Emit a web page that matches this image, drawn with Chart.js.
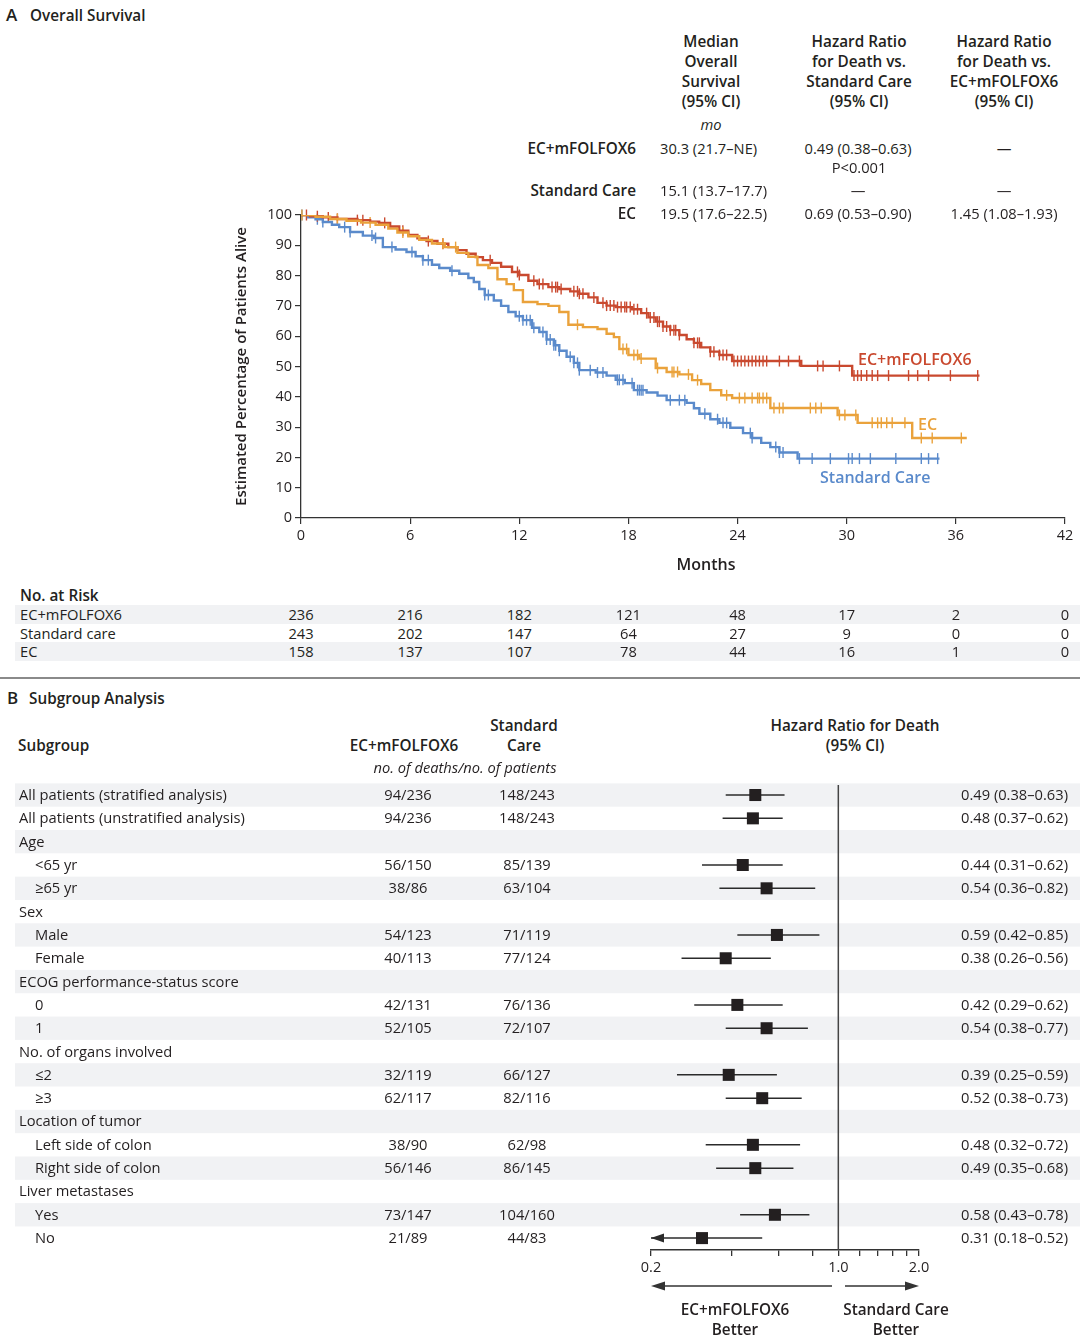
<!DOCTYPE html>
<html>
<head>
<meta charset="utf-8">
<script src="https://cdn.jsdelivr.net/npm/chart.js@4.4.1/dist/chart.umd.min.js"></script>
<style>
  body { margin: 0; background: #fff; }
  #page { position: relative; width: 1080px; height: 1342px; overflow: hidden; background: #fff;
          font-family: 'Open Sans', sans-serif; color: #231f20; }
  .t { position: absolute; white-space: nowrap; line-height: 1.2; font-size: 14.7px; }
  .b { font-weight: 600; font-size: 15.3px; }
  .i { font-style: italic; }
  .band { position: absolute; background: #f1f2f4; }
  canvas { position: absolute; }
</style>
</head>
<body>
<div id="page">
  <div class="band" style="left:15px;top:605px;width:1065px;height:19px"></div>
  <div class="band" style="left:15px;top:642px;width:1065px;height:19px"></div>
  <div style="position:absolute;left:0;top:677px;width:1080px;height:2px;background:#8a8a8a"></div>
  <canvas id="km" width="850" height="378" style="left:230px;top:200px"></canvas>
  <canvas id="forest" width="1080" height="572" style="left:0;top:770px"></canvas>
  <svg style="position:absolute;left:0;top:1270px" width="1080" height="30">
    <line x1="660" y1="16" x2="832" y2="16" stroke="#333" stroke-width="1.5"/>
    <polygon points="651,16 665,11.5 665,20.5" fill="#333"/>
    <line x1="845" y1="16" x2="910" y2="16" stroke="#333" stroke-width="1.5"/>
    <polygon points="919,16 905,11.5 905,20.5" fill="#333"/>
  </svg>
</div>
<script>
// ---- Panel A: Kaplan-Meier data (months, % alive) ----
const comboTimes = [0,0.5,1.2,2.0,3.1,3.8,4.3,4.9,5.4,5.9,6.4,6.9,7.5,8.1,8.6,9.1,9.6,10.0,10.5,11.0,11.6,12.0,12.5,13.0,13.6,14.2,14.8,15.3,15.8,16.3,16.8,17.3,18.2,18.7,19.1,19.5,19.9,20.3,20.8,21.2,21.6,22.0,22.5,23.0,23.7,27.5,30.3,37.3];
const comboSurv  = [100,99.6,99.2,98.7,98.3,97.8,97.4,96.2,94.8,93.4,92.3,91.4,90.5,89.4,88.4,87.2,86.1,85.1,84.2,82.9,81.2,80.2,78.3,77.2,76.2,75.6,74.8,74.0,72.8,71.0,70.1,69.6,68.9,67.6,66.2,64.8,63.2,62.0,60.4,59.0,57.8,56.3,54.9,53.8,51.8,50.2,47.0,47.0];
const comboCensor = [0.3,0.9,1.5,2.0,3.1,3.4,4.6,5.6,7.0,7.8,10.4,11.9,12.0,12.8,13.1,13.3,13.8,14.0,14.1,14.3,15.0,15.2,15.3,15.5,16.1,16.6,16.8,17.0,17.2,17.4,17.6,17.8,17.9,18.1,18.3,18.5,19.0,19.2,19.4,19.6,19.7,19.9,20.1,20.3,20.5,20.6,20.8,21.6,21.8,21.9,22.5,22.7,23.0,23.2,23.4,23.8,24.0,24.2,24.4,24.6,24.8,25.0,25.2,25.4,25.6,26.3,26.8,27.4,28.4,28.7,29.6,30.4,30.6,30.8,31.1,31.4,31.7,32.3,33.4,33.9,34.5,35.7,37.2];

const ecTimes = [0,0.8,1.6,2.5,3.3,4.1,4.8,5.3,5.9,6.5,7.2,7.9,8.6,9.2,9.7,10.3,10.8,11.3,11.7,12.2,13.0,13.6,14.2,14.7,15.5,16.3,16.8,17.2,17.5,18.0,18.6,19.5,20.1,20.8,21.5,22.0,22.5,23.1,23.7,25.8,29.5,30.6,33.6,36.6];
const ecSurv  = [100,99.4,98.7,98.1,97.5,96.8,95.5,94.2,93.0,91.8,90.6,89.4,87.5,86.2,83.5,82.5,78.8,77.2,75.2,71.3,70.6,70.0,68.0,63.8,63.0,62.4,60.8,59.7,55.8,53.8,52.6,49.5,48.2,47.4,45.5,44.2,42.2,40.5,39.6,36.3,34.0,31.4,26.4,26.4];
const ecCensor = [0.05,2.0,3.8,5.6,7.8,8.5,15.2,17.7,17.9,18.3,18.5,18.7,19.6,20.4,20.5,20.7,21.3,21.8,23.4,24.1,24.4,24.8,25.1,25.2,25.4,25.6,26.0,26.3,26.5,28.0,28.3,28.6,29.6,29.9,30.5,31.4,31.7,31.9,32.2,32.5,33.2,34.1,34.7,36.3];

const stdTimes = [0,0.4,0.8,1.2,1.7,2.1,2.7,3.4,4.0,4.5,5.2,5.8,6.3,6.7,7.2,7.6,8.2,8.7,9.2,9.5,9.8,10.1,10.6,11.0,11.4,11.8,12.2,12.7,13.1,13.5,13.9,14.2,14.6,15.0,15.3,16.2,16.8,17.3,17.8,18.3,19.0,19.6,20.1,21.2,21.6,21.9,22.5,23.0,23.6,24.3,24.8,25.3,25.8,26.3,27.3,35.1];
const stdSurv  = [100,99.2,98.6,97.7,96.8,96.0,94.4,93.2,92.4,89.4,88.6,87.8,86.4,85.1,83.6,82.5,81.6,80.6,79.2,77.9,75.6,73.6,71.8,70.0,68.0,66.6,65.3,62.8,61.4,58.9,57.0,55.2,53.2,51.2,48.8,48.0,47.0,45.6,44.5,42.2,41.4,40.4,38.9,38.0,36.2,34.4,32.6,31.4,29.8,28.0,26.4,24.8,23.4,21.6,19.6,19.6];
const stdCensor = [0.05,0.9,1.2,2.4,2.7,3.9,4.1,5.0,6.1,6.7,7.0,8.3,10.1,10.3,12.0,12.2,12.4,12.6,12.8,13.3,13.5,13.7,13.9,14.0,14.2,14.8,15.0,15.2,15.3,15.9,16.3,16.6,17.4,17.5,17.7,18.2,18.5,18.6,18.7,18.8,20.3,20.8,21.1,22.2,22.9,23.2,23.4,24.7,24.8,26.1,26.3,26.5,27.4,28.1,29.1,30.1,30.3,30.7,31.3,32.7,34.1,34.5,35.0];

const months = [0,6,12,18,24,30,36,42];
const riskArms = ['EC+mFOLFOX6','Standard care','EC'];
const riskCombo = [236,216,182,121,48,17,2,0];
const riskStd   = [243,202,147,64,27,9,0,0];
const riskEC    = [158,137,107,78,44,16,1,0];

// ---- Panel A: summary table ----
const summaryRows = ['EC+mFOLFOX6','Standard Care','EC'];
const medianOS = ['30.3 (21.7–NE)','15.1 (13.7–17.7)','19.5 (17.6–22.5)'];
const hrVsStd  = ['0.49 (0.38–0.63)','—','0.69 (0.53–0.90)'];
const hrVsCombo = ['—','—','1.45 (1.08–1.93)'];

// ---- Panel B: subgroup data ----
const subgroupLabels = ['All patients (stratified analysis)','All patients (unstratified analysis)','Age','<65 yr','≥65 yr','Sex','Male','Female','ECOG performance-status score','0','1','No. of organs involved','≤2','≥3','Location of tumor','Left side of colon','Right side of colon','Liver metastases','Yes','No'];
const subgroupIndent = [0,0,0,1,1,0,1,1,0,1,1,0,1,1,0,1,1,0,1,1];
const deathsCombo = ['94/236','94/236','','56/150','38/86','','54/123','40/113','','42/131','52/105','','32/119','62/117','','38/90','56/146','','73/147','21/89'];
const deathsStd   = ['148/243','148/243','','85/139','63/104','','71/119','77/124','','76/136','72/107','','66/127','82/116','','62/98','86/145','','104/160','44/83'];
const hrPoint = [0.49,0.48,null,0.44,0.54,null,0.59,0.38,null,0.42,0.54,null,0.39,0.52,null,0.48,0.49,null,0.58,0.31];
const hrLow   = [0.38,0.37,null,0.31,0.36,null,0.42,0.26,null,0.29,0.38,null,0.25,0.38,null,0.32,0.35,null,0.43,0.18];
const hrHigh  = [0.63,0.62,null,0.62,0.82,null,0.85,0.56,null,0.62,0.77,null,0.59,0.73,null,0.72,0.68,null,0.78,0.52];
const forestTicks  = [0.2,0.4,0.6,0.8,1.0,1.2,1.4,1.6,1.8,2.0];
const forestLabels = [0.2,1.0,2.0];

const RED = '#c9492f', ORANGE = '#eaa23b', BLUE = '#5a8acb', INK = '#231f20';

Chart.defaults.font.family = "'Open Sans', sans-serif";
Chart.defaults.color = INK;

const page = document.getElementById('page');
function put(txt, x, y, cls, align, color) {
  const d = document.createElement('div');
  d.className = 't ' + (cls || '');
  d.textContent = txt;
  d.style.top = y + 'px';
  if (color) d.style.color = color;
  if (align === 'center') { d.style.left = x + 'px'; d.style.transform = 'translate(-50%,-50%)'; }
  else if (align === 'right') { d.style.right = (1080 - x) + 'px'; d.style.transform = 'translateY(-50%)'; }
  else { d.style.left = x + 'px'; d.style.transform = 'translateY(-50%)'; }
  page.appendChild(d);
  return d;
}

function steps(times, surv) {
  return times.map((t, i) => ({ x: t, y: surv[i] }));
}
function survAt(times, surv, t) {
  let s = surv[0];
  for (let i = 0; i < times.length; i++) if (times[i] <= t) s = surv[i];
  return s;
}
function censorPts(ct, times, surv) {
  return ct.map(t => ({ x: t, y: survAt(times, surv, t) }));
}
function curve(times, surv, color) {
  return { type: 'line', data: steps(times, surv), stepped: true, borderColor: color,
           borderWidth: 2.4, pointRadius: 0, fill: false };
}
function marks(ct, times, surv, color) {
  return { type: 'scatter', data: censorPts(ct, times, surv), pointStyle: 'line', pointRotation: 90,
           pointRadius: 5.5, pointBorderColor: color, pointBorderWidth: 1.4, borderColor: color, clip: false };
}

const axisGrid = { drawOnChartArea: false, tickLength: 6, color: '#333', lineWidth: 1.2 };

const kmChart = new Chart(document.getElementById('km'), {
  type: 'line',
  data: {
    datasets: [
      curve(ecTimes, ecSurv, ORANGE),
      curve(comboTimes, comboSurv, RED),
      curve(stdTimes, stdSurv, BLUE),
      marks(ecCensor, ecTimes, ecSurv, ORANGE),
      marks(comboCensor, comboTimes, comboSurv, RED),
      marks(stdCensor, stdTimes, stdSurv, BLUE)
    ]
  },
  options: {
    responsive: false, animation: false, events: [],
    layout: { padding: { left: 0, right: 15, top: 15, bottom: 0 } },
    plugins: { legend: { display: false }, tooltip: { enabled: false } },
    scales: {
      x: {
        type: 'linear', min: 0, max: 42,
        ticks: { stepSize: 6, font: { size: 14.5 }, color: INK, padding: 3, maxRotation: 0 },
        grid: axisGrid, border: { color: '#333', width: 1.3 },
        afterFit: s => { s.height = 60; }
      },
      y: {
        min: 0, max: 100,
        ticks: { stepSize: 10, font: { size: 14.5 }, color: INK, padding: 3 },
        grid: axisGrid, border: { color: '#333', width: 1.3 },
        title: { display: true, text: 'Estimated Percentage of Patients Alive', font: { size: 15, weight: '600' }, color: INK, padding: { top: 3, bottom: 4 } },
        afterFit: s => { s.width = 71; }
      }
    }
  }
});

// Panel A text
put('A', 6, 15, 'b', 'left').style.fontSize = '17px';
put('Overall Survival', 30, 15, 'b', 'left');
[['Median', 'Overall', 'Survival', '(95% CI)'],
 ['Hazard Ratio', 'for Death vs.', 'Standard Care', '(95% CI)'],
 ['Hazard Ratio', 'for Death vs.', 'EC+mFOLFOX6', '(95% CI)']].forEach((lines, c) => {
  const cx = [711, 859, 1004][c];
  lines.forEach((l, k) => put(l, cx, 41 + k * 20, 'b', 'center'));
});
put('mo', 711, 125, 'i', 'center');
const rowY = [149, 191, 214];
summaryRows.forEach((r, k) => {
  put(r, 636, rowY[k] - 1, 'b', 'right');
  put(medianOS[k], 660, rowY[k], '', 'left');
  put(hrVsStd[k], 858, rowY[k], '', 'center');
  put(hrVsCombo[k], 1004, rowY[k], '', 'center');
});
put('P<0.001', 859, 168, '', 'center');

put('Months', 706, 565, 'b', 'center').style.fontSize = '16px';
put('EC+mFOLFOX6', 858, 360, 'b', 'left', RED).style.fontSize = '16px';
put('EC', 918, 425, 'b', 'left', ORANGE).style.fontSize = '16px';
put('Standard Care', 820, 478, 'b', 'left', BLUE).style.fontSize = '16px';

put('No. at Risk', 20, 595, 'b', 'left');
[riskCombo, riskStd, riskEC].forEach((vals, r) => {
  const y = 615 + r * 18.5;
  put(riskArms[r], 20, y, '', 'left');
  months.forEach((m, k) => put(String(vals[k]), 230 + kmChart.scales.x.getPixelForValue(m), y, '', 'center'));
});

// ---- Panel B: forest plot ----
const xMin = forestTicks[0], xMax = forestTicks[forestTicks.length - 1];
const yTop = -0.43, yBottom = 19.51;

const bandPlugin = {
  id: 'bands',
  beforeDraw(chart) {
    const { ctx, scales: { y } } = chart;
    ctx.save();
    ctx.fillStyle = '#f1f2f4';
    subgroupLabels.forEach((l, i) => {
      if (i % 2) return;
      const t = y.getPixelForValue(i - 0.5), b = y.getPixelForValue(i + 0.5);
      ctx.fillRect(15, t, chart.width - 15, b - t);
    });
    ctx.restore();
  }
};
const arrowPlugin = {
  id: 'ciArrows',
  afterDatasetsDraw(chart) {
    const { ctx, scales: { x, y } } = chart;
    ctx.save();
    ctx.fillStyle = '#2b2b2b';
    hrLow.forEach((lo, i) => {
      if (lo === null || lo >= xMin) return;
      const px = x.getPixelForValue(xMin), py = y.getPixelForValue(i);
      ctx.beginPath();
      ctx.moveTo(px, py); ctx.lineTo(px + 13, py - 4.5); ctx.lineTo(px + 13, py + 4.5);
      ctx.closePath(); ctx.fill();
    });
    ctx.restore();
  }
};

const ciSets = [];
hrPoint.forEach((v, i) => {
  if (v === null) return;
  ciSets.push({ type: 'line', data: [{ x: Math.max(hrLow[i], xMin), y: i }, { x: hrHigh[i], y: i }],
                borderColor: '#2b2b2b', borderWidth: 1.5, pointRadius: 0 });
});
const squares = {
  type: 'scatter',
  data: hrPoint.map((v, i) => v === null ? null : { x: v, y: i }).filter(p => p),
  pointStyle: 'rect', pointRadius: 8.5, pointBackgroundColor: INK, pointBorderColor: INK, pointBorderWidth: 0
};
const refLine = { type: 'line', data: [{ x: 1, y: yTop }, { x: 1, y: yBottom }],
                  borderColor: '#444', borderWidth: 1.5, pointRadius: 0, clip: false };

new Chart(document.getElementById('forest'), {
  type: 'scatter',
  data: { datasets: [squares, ...ciSets, refLine] },
  options: {
    responsive: false, animation: false, events: [],
    layout: { padding: { left: 651, right: 161, top: 15, bottom: 0 } },
    plugins: { legend: { display: false }, tooltip: { enabled: false } },
    scales: {
      x: {
        type: 'logarithmic', min: xMin, max: xMax,
        afterBuildTicks: s => { s.ticks = forestTicks.map(v => ({ value: v })); },
        afterFit: s => { s.height = 92; },
        ticks: { callback: v => forestLabels.includes(v) ? v.toFixed(1) : '', autoSkip: false, maxRotation: 0,
                 font: { size: 14.5 }, color: INK, padding: 3 },
        grid: { drawOnChartArea: false, tickLength: 6, color: '#333', lineWidth: 1.3 },
        border: { color: '#333', width: 1.5 }
      },
      y: { type: 'linear', display: false, reverse: true, min: yTop, max: yBottom }
    }
  },
  plugins: [bandPlugin, arrowPlugin]
});

// Panel B text
put('B', 7, 698, 'b', 'left').style.fontSize = '17px';
put('Subgroup Analysis', 29, 698, 'b', 'left');
put('Subgroup', 18, 745, 'b', 'left');
put('EC+mFOLFOX6', 404, 745, 'b', 'center');
put('Standard', 524, 725, 'b', 'center');
put('Care', 524, 745, 'b', 'center');
put('Hazard Ratio for Death', 855, 725, 'b', 'center');
put('(95% CI)', 855, 745, 'b', 'center');
put('no. of deaths/no. of patients', 465, 768, 'i', 'center');
subgroupLabels.forEach((l, i) => {
  const y = 795 + i * 23.32;
  put(l, subgroupIndent[i] ? 35 : 19, y, '', 'left');
  if (deathsCombo[i]) put(deathsCombo[i], 408, y, '', 'center');
  if (deathsStd[i]) put(deathsStd[i], 527, y, '', 'center');
  if (hrPoint[i] !== null)
    put(hrPoint[i].toFixed(2) + ' (' + hrLow[i].toFixed(2) + '–' + hrHigh[i].toFixed(2) + ')', 1068, y, '', 'right');
});
put('EC+mFOLFOX6', 735, 1309, 'b', 'center');
put('Better', 735, 1329, 'b', 'center');
put('Standard Care', 896, 1309, 'b', 'center');
put('Better', 896, 1329, 'b', 'center');
</script>
</body>
</html>
